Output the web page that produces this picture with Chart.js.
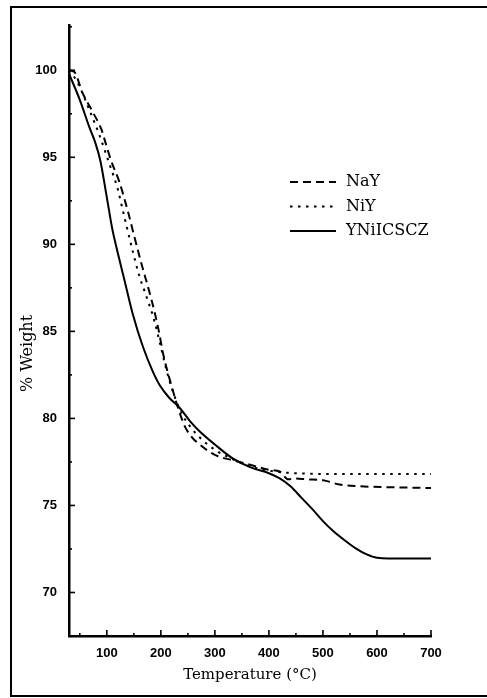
<!DOCTYPE html>
<html>
<head>
<meta charset="utf-8">
<title>TGA curves</title>
<script src="https://cdn.jsdelivr.net/npm/chart.js@4.4.1/dist/chart.umd.min.js"></script>
<style>
  html, body { margin: 0; padding: 0; background: #fff; overflow: hidden; }
  #wrap { position: relative; width: 487px; height: 698px; overflow: hidden; }
  #frame { position: absolute; left: 10px; top: 6px; width: 477px; height: 691px; border: 2px solid #000; border-right: none; box-sizing: border-box; }
  #box { position: absolute; left: 0; top: 0; width: 487px; height: 698px; }
</style>
</head>
<body>
<div id="wrap">
  <div id="frame"></div>
  <div id="box"><canvas id="tga"></canvas></div>
</div>
<script>
// values (temperature in °C, weight in %)
const nayTemp   = [30, 40, 55, 74, 90, 96, 108, 123, 139, 148, 164, 182, 195, 205, 215, 225, 235, 245, 258, 272, 300, 333, 370, 400, 420, 436, 450, 470, 500, 531, 568, 620, 700];
const nayWeight = [100.0, 99.9, 98.7, 97.6, 96.6, 96.0, 94.8, 93.6, 91.9, 90.8, 88.9, 86.9, 85.2, 83.6, 82.4, 81.3, 80.3, 79.5, 78.9, 78.5, 77.9, 77.6, 77.3, 77.05, 76.95, 76.5, 76.55, 76.5, 76.45, 76.2, 76.1, 76.05, 76.0];

const niyTemp   = [30, 40, 52, 68, 86, 105, 120, 130, 148, 161, 170, 188, 200, 212, 225, 240, 255, 272, 300, 330, 360, 400, 450, 550, 700];
const niyWeight = [100.0, 99.6, 98.9, 97.7, 96.3, 94.6, 93.2, 91.9, 89.6, 88.1, 87.3, 85.6, 84.1, 82.6, 81.3, 80.2, 79.5, 78.9, 78.2, 77.7, 77.3, 77.0, 76.85, 76.8, 76.8];

const ynTemp   = [30, 50, 68, 78, 88, 100, 110, 118, 133, 148, 167, 185, 198, 215, 235, 255, 272, 300, 333, 365, 400, 420, 440, 460, 480, 500, 520, 540, 560, 580, 600, 650, 700];
const ynWeight = [99.8, 98.3, 96.7, 95.9, 94.8, 92.7, 90.9, 89.8, 87.9, 86.0, 84.1, 82.7, 81.9, 81.2, 80.6, 79.8, 79.25, 78.5, 77.7, 77.2, 76.85, 76.55, 76.1, 75.45, 74.8, 74.1, 73.5, 73.0, 72.55, 72.2, 72.0, 71.95, 71.95];

const seriesNames = ["NaY", "NiY", "YNiICSCZ"];

const xTickLabels = [100, 200, 300, 400, 500, 600, 700];
const xMinorTicks = [50, 150, 250, 350, 450, 550, 650];
const yTickLabels = [70, 75, 80, 85, 90, 95, 100];
const yMinorTicks = [72.5, 77.5, 82.5, 87.5, 92.5, 97.5, 102.5];

const toPoints = (xs, ys) => xs.map((x, i) => ({ x: x, y: ys[i] }));

// tick marks pointing into the plot, long for labelled ticks, short for the others
const inwardTicks = {
    id: "inwardTicks",
    afterDraw(chart) {
        const { ctx, chartArea } = chart;
        const x = chart.scales.x;
        const y = chart.scales.y;
        ctx.save();
        ctx.strokeStyle = "#000";
        ctx.lineWidth = 1.6;
        const mark = (px, py, dx, dy) => {
            ctx.beginPath();
            ctx.moveTo(px, py);
            ctx.lineTo(px + dx, py + dy);
            ctx.stroke();
        };
        xTickLabels.forEach(v => mark(x.getPixelForValue(v), chartArea.bottom, 0, -6));
        xMinorTicks.forEach(v => mark(x.getPixelForValue(v), chartArea.bottom, 0, -3));
        yTickLabels.forEach(v => mark(chartArea.left, y.getPixelForValue(v), 6, 0));
        yMinorTicks.forEach(v => mark(chartArea.left, y.getPixelForValue(v), 3, 0));
        ctx.restore();
    }
};

// legend drawn inside the plot, right of the curves
const innerLegend = {
    id: "innerLegend",
    afterDraw(chart, args, opts) {
        const ctx = chart.ctx;
        ctx.save();
        chart.data.datasets.forEach((ds, i) => {
            const yy = opts.y + i * opts.rowGap;
            ctx.strokeStyle = ds.borderColor;
            ctx.lineWidth = ds.borderWidth;
            ctx.setLineDash(ds.borderDash || []);
            ctx.beginPath();
            ctx.moveTo(opts.x, yy);
            ctx.lineTo(opts.x + opts.lineLength, yy);
            ctx.stroke();
            ctx.setLineDash([]);
            ctx.fillStyle = "#000";
            ctx.font = opts.font;
            ctx.textBaseline = "middle";
            ctx.fillText(ds.label, opts.x + opts.lineLength + opts.gap, yy);
        });
        ctx.restore();
    }
};

const tickFont = { family: "'Liberation Sans', Arial, sans-serif", size: 13, weight: "bold" };
const titleFont = { family: "'DejaVu Serif', serif", size: 15 };

new Chart(document.getElementById("tga"), {
    type: "line",
    data: {
        datasets: [
            {
                label: seriesNames[0],
                data: toPoints(nayTemp, nayWeight),
                borderColor: "#000",
                borderWidth: 2,
                borderDash: [8, 5],
                pointRadius: 0,
                cubicInterpolationMode: "monotone"
            },
            {
                label: seriesNames[1],
                data: toPoints(niyTemp, niyWeight),
                borderColor: "#000",
                borderWidth: 2,
                borderDash: [2.5, 5.5],
                pointRadius: 0,
                cubicInterpolationMode: "monotone"
            },
            {
                label: seriesNames[2],
                data: toPoints(ynTemp, ynWeight),
                borderColor: "#000",
                borderWidth: 2,
                pointRadius: 0,
                cubicInterpolationMode: "monotone"
            }
        ]
    },
    options: {
        responsive: true,
        maintainAspectRatio: false,
        animation: false,
        layout: { padding: { left: 12, top: 25, right: 56, bottom: 4 } },
        scales: {
            x: {
                type: "linear",
                min: 30,
                max: 700,
                afterFit: s => { s.height = 58; },
                afterBuildTicks: s => { s.ticks = xTickLabels.map(v => ({ value: v })); },
                grid: { display: false, drawTicks: false },
                border: { display: true, color: "#000", width: 2.5 },
                ticks: { color: "#000", font: tickFont, padding: 10, maxRotation: 0, autoSkip: false },
                title: {
                    display: true,
                    text: "Temperature (\u00b0C)",
                    color: "#000",
                    font: titleFont,
                    padding: { top: 0, bottom: 10 }
                }
            },
            y: {
                type: "linear",
                min: 67.5,
                max: 102.6,
                afterFit: s => { s.width = 57; },
                afterBuildTicks: s => { s.ticks = yTickLabels.map(v => ({ value: v })); },
                grid: { display: false, drawTicks: false },
                border: { display: true, color: "#000", width: 2.5 },
                ticks: { color: "#000", font: tickFont, padding: 12, autoSkip: false },
                title: {
                    display: true,
                    text: "% Weight\u00a0\u00a0\u00a0\u00a0\u00a0\u00a0\u00a0\u00a0\u00a0",
                    color: "#000",
                    font: { family: "'DejaVu Serif', serif", size: 16 },
                    padding: { top: 6, bottom: 0 }
                }
            }
        },
        plugins: {
            legend: { display: false },
            tooltip: { enabled: false },
            innerLegend: {
                x: 290,
                y: 182,
                rowGap: 24.5,
                lineLength: 46,
                gap: 10,
                font: "16px 'DejaVu Serif', serif"
            }
        }
    },
    plugins: [inwardTicks, innerLegend]
});
</script>
</body>
</html>
